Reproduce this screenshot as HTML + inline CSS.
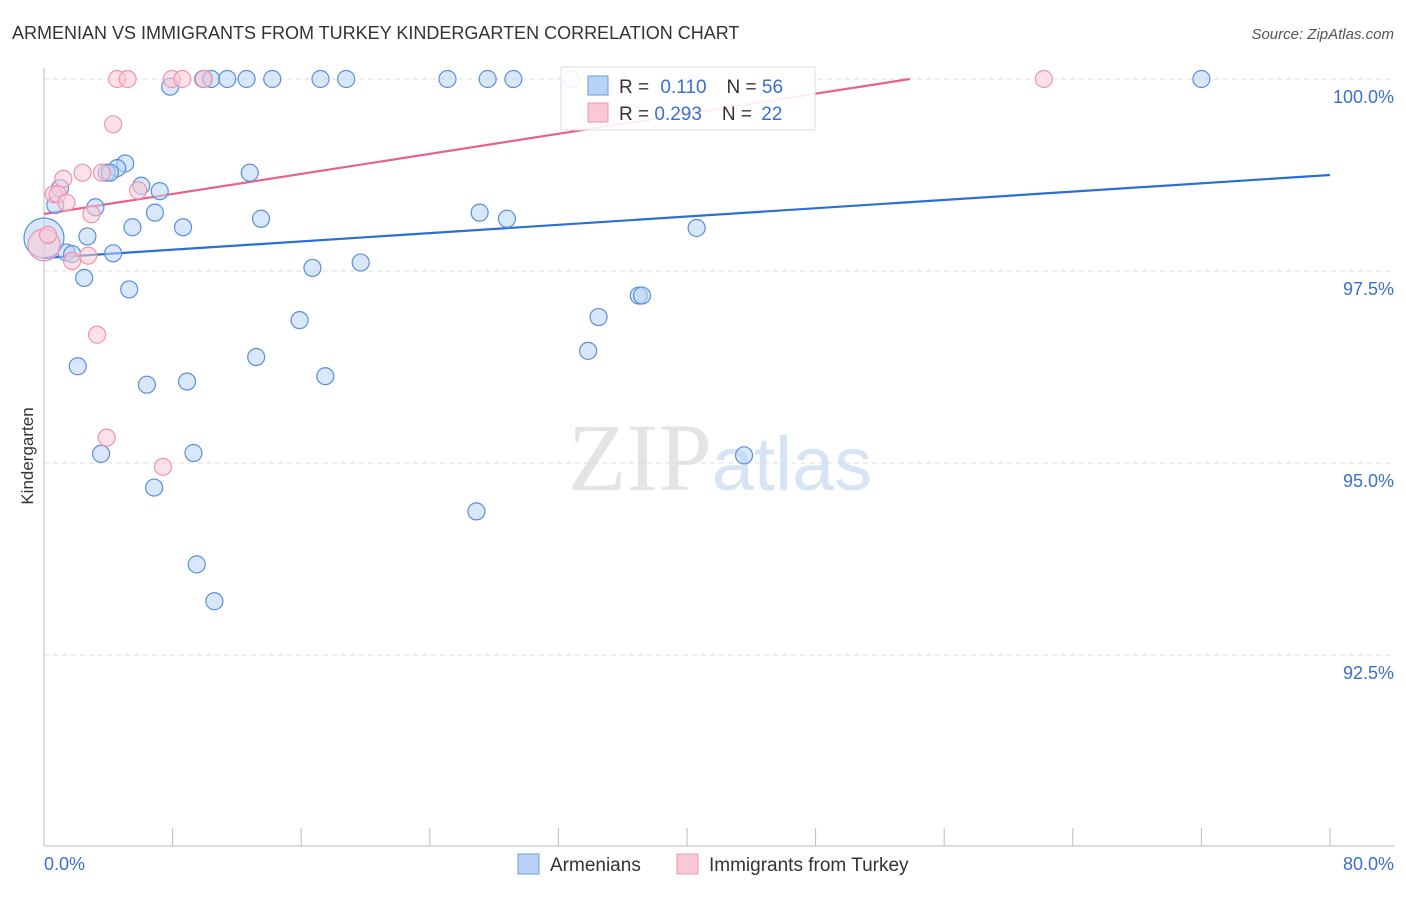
<!DOCTYPE html>
<html><head><meta charset="utf-8"><style>
body{margin:0;background:#fff;font-family:"Liberation Sans",sans-serif;}
</style></head><body>
<svg width="1406" height="892" viewBox="0 0 1406 892" xmlns="http://www.w3.org/2000/svg">
<text x="12" y="39" font-size="18" fill="#333">ARMENIAN VS IMMIGRANTS FROM TURKEY KINDERGARTEN CORRELATION CHART</text>
<text x="1394" y="39" font-size="15" fill="#555" text-anchor="end" font-style="italic">Source: ZipAtlas.com</text>
<text x="720" y="490" font-size="96" fill="#e4e4e4" text-anchor="middle" font-family="Liberation Serif,serif">ZIP<tspan fill="#d6e4f5" font-family="Liberation Sans,sans-serif" font-size="76">atlas</tspan></text>
<g id="grid"></g>
<line x1="44" y1="68" x2="44" y2="846" stroke="#bbb"/>
<line x1="44" y1="846" x2="1394" y2="846" stroke="#bbb"/>
<text transform="translate(33,456) rotate(-90)" font-size="17" fill="#333" text-anchor="middle">Kindergarten</text>
<text x="44" y="870" font-size="18" fill="#3a6fd0">0.0%</text>
<text x="1394" y="870" font-size="18" fill="#3a6fd0" text-anchor="end">80.0%</text>
<g id="lines"></g>
<g id="pts"></g>
<g>
<rect x="561" y="67" width="254" height="63" fill="#fff" fill-opacity="0.9" stroke="#ddd"/>
<rect x="588" y="76" width="20" height="19" fill="#b8d3f5" stroke="#6a9ee0"/>
<rect x="588" y="103" width="20" height="19" fill="#fbc8d6" stroke="#ee93ae"/>
<text x="619" y="93" font-size="19" fill="#333">R = <tspan fill="#3a6fd0" dx="6">0.110</tspan><tspan dx="20" fill="#333">N = </tspan><tspan fill="#3a6fd0">56</tspan></text>
<text x="619" y="120" font-size="19" fill="#333">R = <tspan fill="#3a6fd0">0.293</tspan><tspan dx="20" fill="#333">N = </tspan><tspan fill="#3a6fd0" dx="4">22</tspan></text>
</g>
<g>
<rect x="518" y="854" width="21" height="20" fill="#b8d3f5" stroke="#6a9ee0"/>
<text x="550" y="871" font-size="19" fill="#333">Armenians</text>
<rect x="677" y="854" width="21" height="20" fill="#fbc8d6" stroke="#ee93ae"/>
<text x="709" y="871" font-size="19" fill="#333">Immigrants from Turkey</text>
</g>
</svg>
<script>
const yTicks=[100,97.5,95,92.5];
const yTickLabels=["100.0%","97.5%","95.0%","92.5%"];
const xTicks=[0,8,16,24,32,40,48,56,64,72,80];
const blueX=[0,1,0.7,3.2,2.7,1.4,1.75,4.3,2.5,5.05,4.55,3.9,6.05,7.2,6.9,5.5,8.65,13.5,12.8,5.3,2.1,6.4,8.9,13.2,15.9,16.7,19.7,17.5,3.55,9.3,6.85,9.5,10.6,7.85,9.9,10.4,11.4,12.6,14.2,17.2,18.8,25.1,27.6,29.2,32.8,72,27.1,28.8,40.6,37,37.2,34.5,33.85,43.55,26.9,4.1];
const blueY=[97.93,98.58,98.36,98.33,97.95,97.74,97.72,97.73,97.41,98.9,98.84,98.78,98.61,98.54,98.26,98.07,98.07,98.18,98.78,97.26,96.26,96.02,96.06,96.38,96.86,97.54,97.61,96.13,95.12,95.13,94.68,93.68,93.2,99.9,100,100,100,100,100,100,100,100,100,100,100,100,98.26,98.18,98.06,97.18,97.18,96.9,96.46,95.1,94.37,98.78];
const pinkX=[4.55,5.2,7.95,8.6,9.95,62.2,4.3,1.2,2.4,3.6,0.6,0.85,1.4,2.95,5.85,0,1.75,2.75,3.3,3.9,7.4,0.25];
const pinkY=[100,100,100,100,100,100,99.41,98.7,98.78,98.78,98.5,98.5,98.39,98.24,98.55,97.84,97.63,97.7,96.67,95.33,94.95,97.97];
const trendIntercept=[97.669,98.242];
const trendSlope=[0.01351,0.03264];
const NS="http://www.w3.org/2000/svg";
const X=v=>44+v*16.075, Y=v=>79+(100-v)*76.8;
const grid=document.getElementById('grid');
yTicks.forEach((t,i)=>{
 const l=document.createElementNS(NS,'line');
 
 
 l.setAttribute('x1',44);l.setAttribute('x2',1394);l.setAttribute('y1',Y(t));l.setAttribute('y2',Y(t));
 l.setAttribute('stroke','#ddd');l.setAttribute('stroke-dasharray','5,4');grid.appendChild(l);
 const tx=document.createElementNS(NS,'text');
 
 
 tx.setAttribute('x',1394);tx.setAttribute('y',Y(t)+24);tx.setAttribute('text-anchor','end');
 tx.setAttribute('font-size','18');tx.setAttribute('fill','#3a6fd0');tx.textContent=yTickLabels[i];grid.appendChild(tx);
});
xTicks.forEach(t=>{
 const l=document.createElementNS(NS,'line');
 
 
 l.setAttribute('x1',X(t));l.setAttribute('x2',X(t));l.setAttribute('y1',828);l.setAttribute('y2',846);
 l.setAttribute('stroke','#bbb');grid.appendChild(l);
});
const pts=document.getElementById('pts');
function dot(x,y,r,fill,stroke,name){
 const c=document.createElementNS(NS,'circle');
 
 
 c.setAttribute('cx',X(x));c.setAttribute('cy',Y(y));c.setAttribute('r',r);
 c.setAttribute('fill',fill);c.setAttribute('fill-opacity','0.55');c.setAttribute('stroke',stroke);c.setAttribute('stroke-width','1.2');
 pts.appendChild(c);
}
blueX.forEach((x,i)=>dot(x,blueY[i],i===0?20:8.5,'#b8d3f5','#5a8fdc','armenian-point'));
pinkX.forEach((x,i)=>dot(x,pinkY[i],i===15?16:8.5,'#fbc8d6','#ee93ae','turkey-point'));
const lines=document.getElementById('lines');
const cols=['#2a6fd6','#e8608e'];
trendIntercept.forEach((b,i)=>{
 const m=trendSlope[i];let x2=80,y2=b+m*80;
 if(y2>100){x2=(100-b)/m;y2=100;}
 const l=document.createElementNS(NS,'line');
 
 
 l.setAttribute('x1',X(0));l.setAttribute('y1',Y(b));l.setAttribute('x2',X(x2));l.setAttribute('y2',Y(y2));
 l.setAttribute('stroke',cols[i]);l.setAttribute('stroke-width','2.2');lines.appendChild(l);
});
</script>
</body></html>
